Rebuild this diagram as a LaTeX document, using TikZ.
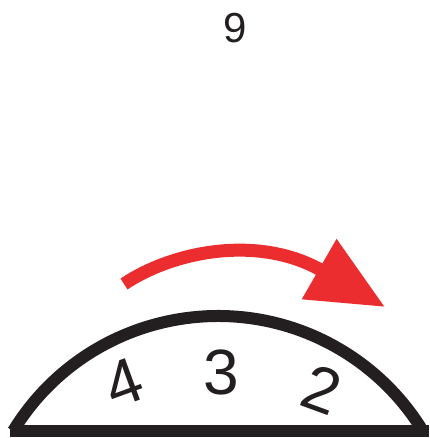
\documentclass[tikz,border=0pt]{standalone}
\usepackage{fontspec}
\setmainfont{Liberation Sans}
\usepackage{xcolor}
\usetikzlibrary{arrows.meta}
\definecolor{inkc}{HTML}{231F20}
\definecolor{redc}{HTML}{EC2D30}
\tikzset{
  turn/.style={-{Triangle[length=76pt,width=66pt]},line width=13pt,redc},
  dome/.style={line width=12pt,inkc},
  digit/.style={font=\fontsize{64}{64}\selectfont,inkc,inner sep=0pt}
}
\begin{document}
\begin{tikzpicture}[x=1pt,y=1pt]
\useasboundingbox (0,0) rectangle (429,438);
\coordinate (O) at (218,-118);
\coordinate (L) at (10,7);
\coordinate (R) at (429,7);
\coordinate (tail) at (124,154);
\coordinate (tip) at (385,131);
% the dome
\draw[dome] (L) -- (R);
\draw[dome] (O) ++(148.6:240) arc (148.6:31.4:240);
% turning arrow
\draw[turn] (tail) .. controls (175,188) and (260,203) .. (tip);
% labels
\node[font=\fontsize{42}{42}\selectfont,inkc,inner sep=0pt] (nine) at (235,410) {9};
\node[digit,rotate=20] (four) at (124,55) {4};
\node[digit] (three) at (221,66) {3};
\node[digit,rotate=-20] (two) at (322,48) {2};
\end{tikzpicture}
\end{document}
